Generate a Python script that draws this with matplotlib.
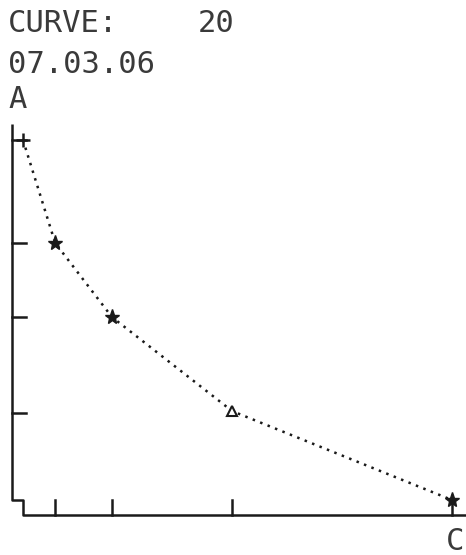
import matplotlib
matplotlib.use("Agg")
import matplotlib.pyplot as plt

# data (arbitrary units)
x_vals = [0, 1.5, 4.15, 9.75, 20]
y_vals = [100, 71.4, 50.8, 24.7, 0]
x_ticks = [1.5, 4.15, 9.75, 20]
y_ticks = [100, 71.4, 50.8, 24.2]
markers = ["+", "*", "*", "^", "*"]
title_label = "CURVE:"
curve_no = "20"
date_label = "07.03.06"
y_axis_label = "A"
x_axis_label = "C"

W, H = 466, 555
fig = plt.figure(figsize=(W / 100, H / 100), dpi=100)
ax = fig.add_axes([0, 0, 1, 1])
# pixel mapping: x=0 -> px 23, x=20 -> px 452; y=0 -> px 500, y=100 -> px 140
sx = (452 - 23) / 20.0
sy = (500 - 140) / 100.0
ax.set_xlim(-23 / sx, (W - 23) / sx)
ax.set_ylim(-(H - 500) / sy, 500 / sy)
ax.axis("off")

ink = "#1a1a1a"
def px_x(p):
    return (p - 23) / sx
def px_y(p):
    return (500 - p) / sy

# frame: y axis with step into x axis
yax_x = px_x(12)
ax.plot([yax_x, yax_x, 0, 0, ax.get_xlim()[1]],
        [px_y(124), 0, 0, px_y(515), px_y(515)], color=ink, lw=1.8,
        solid_capstyle="butt")
for yt in y_ticks:
    ax.plot([yax_x, px_x(26)], [yt, yt], color=ink, lw=1.8)
for xt in x_ticks:
    ax.plot([xt, xt], [px_y(515), 0], color=ink, lw=1.8)

# curve
ax.plot(x_vals, y_vals, linestyle=(0, (1, 2.2)), color=ink, lw=1.8)
for xv, yv, m in zip(x_vals, y_vals, markers):
    if m == "^":
        ax.plot(xv, yv, marker=m, ms=7, mfc="white", mec=ink, mew=1.5)
    elif m == "+":
        ax.plot(xv, yv, marker=m, ms=10, mec=ink, mew=1.8)
    else:
        ax.plot(xv, yv, marker=m, ms=11, color=ink)

font = dict(family="DejaVu Sans Mono", color="#3a3a3a", fontsize=22)
ax.text(px_x(8), px_y(32), title_label, ha="left", va="baseline", **font)
ax.text(px_x(198), px_y(32), curve_no, ha="left", va="baseline", **font)
ax.text(px_x(8), px_y(73), date_label, ha="left", va="baseline", **font)
ax.text(px_x(8), px_y(108), y_axis_label, ha="left", va="baseline", **font)
ax.text(px_x(446), px_y(550), x_axis_label, ha="left", va="baseline", **font)

fig.savefig("out.png", dpi=100)
